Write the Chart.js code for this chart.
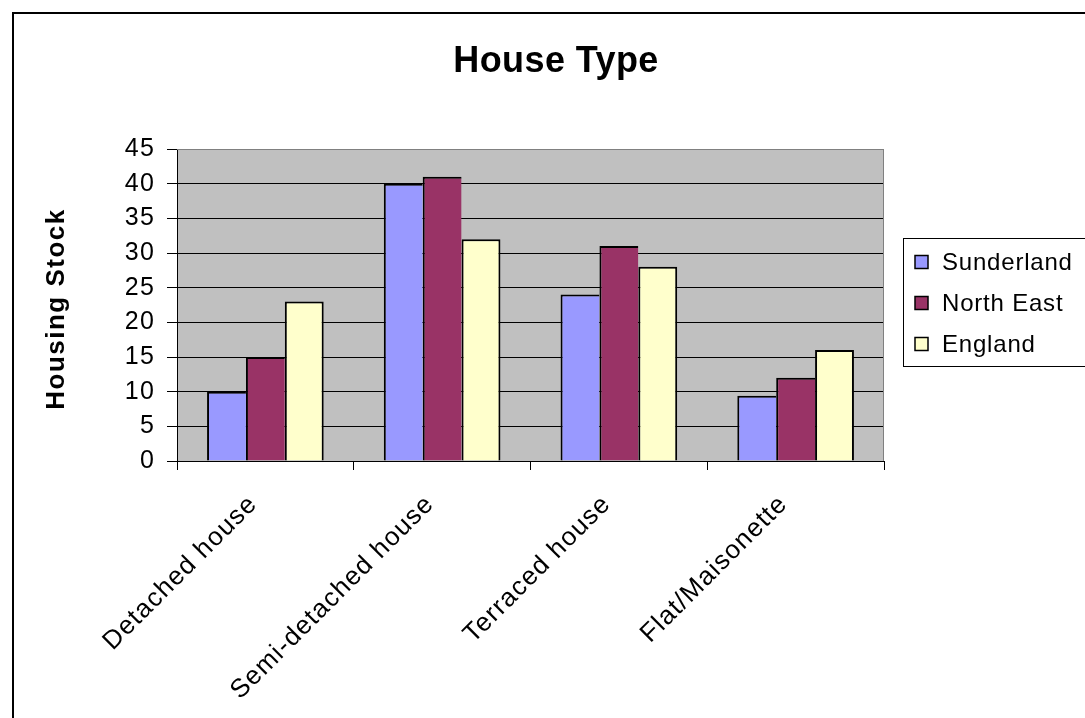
<!DOCTYPE html>
<html>
<head>
<meta charset="utf-8">
<title>House Type</title>
<script src="https://cdn.jsdelivr.net/npm/chart.js@4/dist/chart.umd.min.js"></script>
<style>
  html, body { margin: 0; padding: 0; background: #fff; overflow: hidden; }
  canvas { display: block; }
</style>
</head>
<body>
<canvas id="chart" width="1085" height="718"></canvas>
<script>
// Housing stock by dwelling type (%)
const categories = ['Detached house', 'Semi-detached house', 'Terraced house', 'Flat/Maisonette'];
const sunderland = [10, 40, 24, 9.4];
const northEast  = [15, 41, 31, 12];
const england    = [23, 32, 28, 16];
const seriesNames = ['Sunderland', 'North East', 'England'];
const seriesColors = ['#9999FF', '#993366', '#FFFFCC'];
const yMin = 0, yMax = 45, yStep = 5;

const chartTitle = 'House Type';
const yAxisTitle = 'Housing Stock';

const FONT = "'Liberation Sans', Arial, Helvetica, sans-serif";
const BASE_SPACING = '1.2px';

// Plot background, frame, title, axis title and legend
const decor = {
  id: 'decor',
  beforeUpdate(chart) { chart.ctx.letterSpacing = BASE_SPACING; },
  beforeDraw(chart) {
    const { ctx, chartArea: a } = chart;
    ctx.save();
    ctx.fillStyle = '#fff';
    ctx.fillRect(0, 0, chart.width, chart.height);
    ctx.fillStyle = '#C0C0C0';
    ctx.fillRect(a.left, a.top, a.right - a.left, a.bottom - a.top);
    ctx.restore();
    ctx.letterSpacing = BASE_SPACING;
  },
  afterDraw(chart) {
    const { ctx, chartArea: a } = chart;
    ctx.save();

    // plot area edge (top and right)
    ctx.strokeStyle = '#808080';
    ctx.lineWidth = 1;
    ctx.beginPath();
    ctx.moveTo(a.left, a.top + 0.5);
    ctx.lineTo(a.right - 0.5, a.top + 0.5);
    ctx.lineTo(a.right - 0.5, a.bottom);
    ctx.stroke();

    // outer chart frame
    ctx.strokeStyle = '#000';
    ctx.lineWidth = 2;
    ctx.strokeRect(13, 13, 1200, 900);

    // title
    ctx.fillStyle = '#000';
    ctx.letterSpacing = '0.4px';
    ctx.font = 'bold 36px ' + FONT;
    ctx.textAlign = 'center';
    ctx.textBaseline = 'alphabetic';
    ctx.fillText(chartTitle, 556, 72);

    // y axis title
    ctx.save();
    ctx.letterSpacing = '1.5px';
    ctx.font = 'bold 26px ' + FONT;
    ctx.translate(64, 309);
    ctx.rotate(-Math.PI / 2);
    ctx.textAlign = 'center';
    ctx.fillText(yAxisTitle, 0, 0);
    ctx.restore();

    // legend
    const lx = 903.5, ly = 238.5, lw = 300, lh = 128;
    ctx.fillStyle = '#fff';
    ctx.fillRect(lx, ly, lw, lh);
    ctx.strokeStyle = '#000';
    ctx.lineWidth = 1;
    ctx.strokeRect(lx, ly, lw, lh);
    const rows = [262, 303, 344];
    ctx.letterSpacing = '0.8px';
    ctx.font = '24px ' + FONT;
    ctx.textAlign = 'left';
    ctx.textBaseline = 'middle';
    chart.data.datasets.forEach((ds, i) => {
      const cy = rows[i];
      ctx.fillStyle = ds.backgroundColor;
      ctx.fillRect(915, cy - 6.5, 13, 13);
      ctx.strokeStyle = '#000';
      ctx.lineWidth = 1.5;
      ctx.strokeRect(915, cy - 6.5, 13, 13);
      ctx.fillStyle = '#000';
      ctx.fillText(ds.label, 942, cy + 1);
    });

    ctx.restore();
  }
};

const datasets = [sunderland, northEast, england].map((values, i) => ({
  label: seriesNames[i],
  data: values,
  backgroundColor: seriesColors[i],
  borderColor: '#000',
  borderWidth: { top: 2, left: 2, bottom: 0, right: i === 2 ? 2 : 0 },
  borderSkipped: 'start',
  categoryPercentage: 0.66,
  barPercentage: 1.0
}));

new Chart(document.getElementById('chart'), {
  type: 'bar',
  data: { labels: categories, datasets },
  plugins: [decor],
  options: {
    responsive: false,
    animation: false,
    devicePixelRatio: 1,
    layout: { padding: { left: 0, top: 149, right: 201, bottom: 0 } },
    plugins: {
      legend: { display: false },
      title: { display: false },
      tooltip: { enabled: false }
    },
    scales: {
      x: {
        grid: {
          display: true,
          drawOnChartArea: false,
          drawTicks: true,
          tickLength: 9,
          color: '#000',
          offset: true
        },
        border: { display: true, color: '#000', width: 1 },
        ticks: {
          font: { family: FONT, size: 26 },
          color: '#000',
          minRotation: 45,
          maxRotation: 45,
          autoSkip: false,
          labelOffset: -12,
          padding: 19
        },
        afterFit(scale) {
          scale.height = 718 - 461;
          scale.paddingLeft = 0;
          scale.paddingRight = 0;
        }
      },
      y: {
        min: yMin,
        max: yMax,
        ticks: {
          stepSize: yStep,
          font: { family: FONT, size: 25 },
          color: '#000',
          padding: 12
        },
        grid: {
          color: (c) => (c.tick && c.tick.value === yMax ? '#808080' : '#000'),
          tickColor: '#000',
          tickLength: 10,
          lineWidth: 1
        },
        border: { display: true, color: '#000', width: 1 },
        afterFit(scale) {
          scale.width = 177;
        }
      }
    }
  }
});
</script>
</body>
</html>
